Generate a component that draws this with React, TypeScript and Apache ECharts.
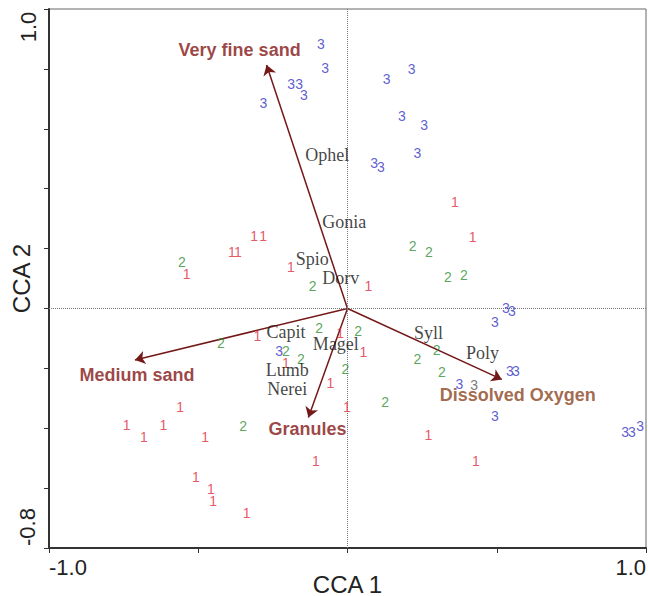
import React, { useEffect, useRef } from "react";
import * as echarts from "echarts";

// ---- Data (CCA scores) ----
const xTickLabels = ["-1.0", "1.0"];
const yTickLabels = ["-0.8", "1.0"];

const site1: [number, number][] = [
  [-0.313, 0.242], [-0.283, 0.242], [-0.387, 0.188], [-0.367, 0.188],
  [-0.539, 0.115], [-0.19, 0.139], [0.07, 0.076], [0.36, 0.356],
  [0.419, 0.237], [-0.302, -0.092], [-0.206, -0.183], [-0.025, -0.083],
  [0.053, -0.145], [-0.057, -0.25], [-0.002, -0.328], [-0.106, -0.509],
  [-0.561, -0.33], [-0.74, -0.389], [-0.682, -0.429], [-0.617, -0.389],
  [-0.477, -0.429], [-0.508, -0.564], [-0.458, -0.604], [-0.45, -0.642],
  [-0.338, -0.682], [0.271, -0.423], [0.43, -0.509],
];

const site2: [number, number][] = [
  [-0.555, 0.156], [-0.117, 0.075], [0.218, 0.209], [0.273, 0.187],
  [0.336, 0.106], [0.39, 0.112], [-0.424, -0.117], [-0.095, -0.066],
  [0.036, -0.074], [-0.206, -0.142], [-0.156, -0.17], [-0.007, -0.201],
  [0.126, -0.314], [-0.35, -0.394], [0.234, -0.17], [0.299, -0.139],
  [0.316, -0.211],
];

const site3: [number, number][] = [
  [-0.089, 0.883], [-0.075, 0.802], [-0.189, 0.75], [-0.162, 0.75],
  [-0.146, 0.713], [-0.282, 0.685], [0.131, 0.766], [0.215, 0.8],
  [0.182, 0.643], [0.257, 0.613], [0.234, 0.518], [0.089, 0.486],
  [0.112, 0.472], [0.531, 0.001], [0.551, -0.009], [0.494, -0.044],
  [-0.229, -0.142], [0.375, -0.253], [0.544, -0.208], [0.564, -0.208],
  [0.494, -0.359], [0.93, -0.413], [0.953, -0.413], [0.98, -0.393],
];

const site3Faded: [number, number][] = [[0.424, -0.256]];

const speciesNames = ["Ophel", "Gonia", "Spio", "Dorv", "Capit", "Magel", "Lumb", "Nerei", "Syll", "Poly"];
const speciesX = [-0.068, -0.011, -0.118, -0.023, -0.206, -0.039, -0.202, -0.202, 0.271, 0.452];
const speciesY = [0.512, 0.29, 0.165, 0.101, -0.08, -0.12, -0.206, -0.27, -0.081, -0.15];

const envNames = ["Very fine sand", "Medium sand", "Granules", "Dissolved Oxygen"];
const envX = [-0.271, -0.712, -0.131, 0.517];
const envY = [0.813, -0.172, -0.364, -0.237];

// ---- Styles ----
const SANS = "'Liberation Sans', Arial, Helvetica, sans-serif";
const SERIF = "'Liberation Serif', 'Times New Roman', serif";
const envLabelOffsets: [number, number][] = [[-27, -15], [2, 15], [-1, 12], [16, 16]];
const envLabelColors = ["#841414", "#841414", "#841414", "#8a4420"];
const ARROW_COLOR = "#741818";

function siteSeries(name: string, pts: [number, number][], color: string, text: string) {
  return {
    type: "scatter",
    name,
    data: pts,
    symbol: "circle",
    symbolSize: 2,
    itemStyle: { color: "rgba(0,0,0,0)" },
    label: {
      show: true,
      position: "inside",
      formatter: text,
      color,
      fontSize: 14,
      fontFamily: SANS,
    },
    z: 5,
  };
}

export default function App() {
  const ref = useRef<HTMLDivElement>(null);

  useEffect(() => {
    document.body.style.margin = "0";
    const chart = echarts.init(ref.current!, null, { renderer: "svg" });

    const option: any = {
      animation: false,
      backgroundColor: "#ffffff",
      grid: {
        left: 49,
        right: 2,
        top: 9,
        bottom: 48,
        containLabel: false,
        outerBoundsMode: "none",
        show: true,
        borderColor: "#666",
        borderWidth: 1,
      },
      xAxis: {
        type: "value",
        min: -1,
        max: 1,
        interval: 0.5,
        name: "CCA 1",
        nameLocation: "middle",
        nameGap: 24,
        nameMoveOverlap: false,
        nameTextStyle: { fontSize: 24, fontFamily: SANS, color: "#222" },
        axisLine: { show: true, onZero: false, lineStyle: { color: "#333", width: 2 } },
        axisTick: { show: true, length: 5, lineStyle: { color: "#333", width: 1 } },
        splitLine: { show: false },
        axisLabel: {
          show: true,
          margin: 8,
          fontSize: 22,
          fontFamily: SANS,
          color: "#222",
          alignMinLabel: "left",
          alignMaxLabel: "right",
          formatter: (v: number) =>
            Math.abs(v + 1) < 1e-9 ? xTickLabels[0] : Math.abs(v - 1) < 1e-9 ? xTickLabels[1] : "",
        },
      },
      yAxis: {
        type: "value",
        min: -0.8,
        max: 1,
        interval: 0.2,
        name: "CCA 2",
        nameLocation: "middle",
        nameGap: 16,
        nameMoveOverlap: false,
        nameTextStyle: { fontSize: 24, fontFamily: SANS, color: "#222" },
        axisLine: { show: true, onZero: false, lineStyle: { color: "#333", width: 2 } },
        axisTick: { show: true, length: 5, lineStyle: { color: "#333", width: 1 } },
        splitLine: { show: false },
        axisLabel: { show: false },
      },
      graphic: [
        {
          type: "text",
          x: 28,
          y: 27,
          rotation: Math.PI / 2,
          style: {
            text: yTickLabels[1],
            fontSize: 22,
            fontFamily: SANS,
            fill: "#222",
            align: "center",
            verticalAlign: "middle",
          },
        },
        {
          type: "text",
          x: 27,
          y: 527,
          rotation: Math.PI / 2,
          style: {
            text: yTickLabels[0],
            fontSize: 22,
            fontFamily: SANS,
            fill: "#222",
            align: "center",
            verticalAlign: "middle",
          },
        },
      ],
      series: [
        {
          type: "scatter",
          name: "zero",
          data: [],
          markLine: {
            silent: true,
            symbol: "none",
            label: { show: false },
            lineStyle: { color: "#777", type: "dotted", width: 1 },
            data: [{ xAxis: 0 }, { yAxis: 0 }],
          },
          z: 1,
        },
        {
          type: "lines",
          coordinateSystem: "cartesian2d",
          symbol: ["none", "arrow"],
          symbolSize: 10,
          lineStyle: { color: ARROW_COLOR, width: 1.5, opacity: 1 },
          data: envNames.map((n, i) => ({ name: n, coords: [[0, 0], [envX[i], envY[i]]] })),
          z: 3,
        },
        {
          type: "scatter",
          name: "env labels",
          symbol: "circle",
          symbolSize: 2,
          itemStyle: { color: "rgba(0,0,0,0)" },
          data: envNames.map((n, i) => ({
            name: n,
            value: [envX[i], envY[i]],
            label: { offset: envLabelOffsets[i], color: envLabelColors[i] },
          })),
          label: {
            show: true,
            position: "inside",
            formatter: (p: any) => p.name,
            fontSize: 18,
            fontWeight: "bold",
            fontFamily: SANS,
          },
          z: 6,
        },
        {
          type: "scatter",
          name: "species",
          symbol: "circle",
          symbolSize: 2,
          itemStyle: { color: "rgba(0,0,0,0)" },
          data: speciesNames.map((n, i) => ({ name: n, value: [speciesX[i], speciesY[i]] })),
          label: {
            show: true,
            position: "inside",
            formatter: (p: any) => p.name,
            fontSize: 18,
            fontFamily: SERIF,
            color: "#111",
          },
          z: 6,
        },
        siteSeries("1", site1, "#e02c3c", "1"),
        siteSeries("2", site2, "#2f8f2f", "2"),
        siteSeries("3", site3, "#3434c4", "3"),
        siteSeries("3b", site3Faded, "#555555", "3"),
      ],
    };

    chart.setOption(option);
    return () => chart.dispose();
  }, []);

  return <div ref={ref} style={{ width: 648, height: 596 }} />;
}
